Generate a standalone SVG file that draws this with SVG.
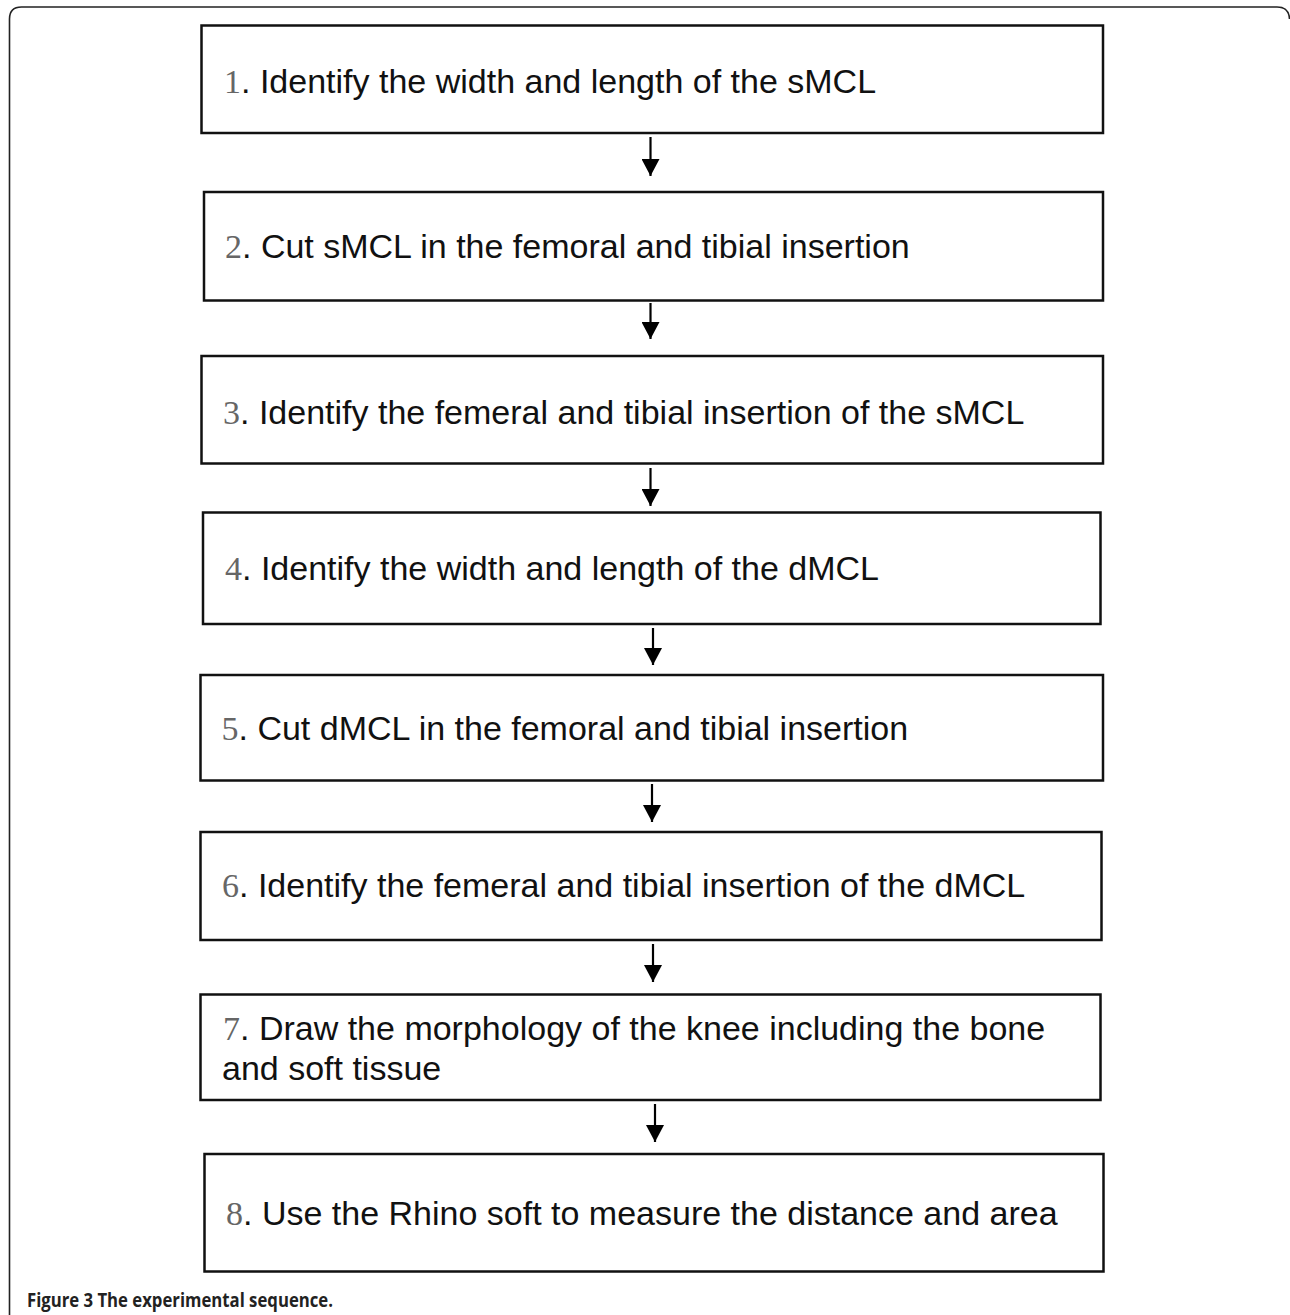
<svg xmlns="http://www.w3.org/2000/svg" width="1290" height="1315" viewBox="0 0 1290 1315">
<style>
.box{fill:#fff;stroke:#111;stroke-width:2.5}
.lbl{font-family:"Liberation Sans",Arial,sans-serif;font-size:34px;fill:#111}
.num{font-family:"Liberation Serif","Times New Roman",serif;fill:#666}
.conn{stroke:#000;stroke-width:2.2;fill:none}
.cap{font-family:"Open Sans","Liberation Sans",sans-serif;font-size:19px;font-weight:bold;fill:#222}
</style>
<defs>
<marker id="ah" markerUnits="userSpaceOnUse" markerWidth="18" markerHeight="18" viewBox="0 0 18 18" refX="17" refY="9" orient="auto">
<path d="M0,0 L17,9 L0,18 Z" fill="#000"/>
</marker>
</defs>
<rect width="1290" height="1315" fill="#fff"/>
<path d="M9.5,1315 L9.5,19 Q9.5,7 21.5,7 L1277,7 Q1289,7 1289.5,19" fill="none" stroke="#222" stroke-width="1.6"/>
<g id="connectors">
<path d="M650.5,137 L650.5,176" class="conn" marker-end="url(#ah)"/>
<path d="M650.5,303 L650.5,339" class="conn" marker-end="url(#ah)"/>
<path d="M650.5,468 L650.5,506" class="conn" marker-end="url(#ah)"/>
<path d="M653,628 L653,665" class="conn" marker-end="url(#ah)"/>
<path d="M652,784 L652,822" class="conn" marker-end="url(#ah)"/>
<path d="M653,944 L653,982" class="conn" marker-end="url(#ah)"/>
<path d="M655,1104 L655,1142" class="conn" marker-end="url(#ah)"/>
</g>
<g id="n1"><rect class="box" x="201.5" y="25.5" width="901.5" height="107.5"/><text class="lbl" x="224" y="93"><tspan class="num">1</tspan>. Identify the width and length of the sMCL</text></g>
<g id="n2"><rect class="box" x="204" y="192" width="899" height="108.5"/><text class="lbl" x="225" y="258"><tspan class="num">2</tspan>. Cut sMCL in the femoral and tibial insertion</text></g>
<g id="n3"><rect class="box" x="201.5" y="356" width="901.5" height="107.5"/><text class="lbl" x="223" y="424"><tspan class="num">3</tspan>. Identify the femeral and tibial insertion of the sMCL</text></g>
<g id="n4"><rect class="box" x="203" y="512.5" width="897.5" height="111.5"/><text class="lbl" x="225" y="580"><tspan class="num">4</tspan>. Identify the width and length of the dMCL</text></g>
<g id="n5"><rect class="box" x="200.5" y="675" width="902.5" height="105.5"/><text class="lbl" x="221.5" y="740"><tspan class="num">5</tspan>. Cut dMCL in the femoral and tibial insertion</text></g>
<g id="n6"><rect class="box" x="200.5" y="832" width="901" height="108"/><text class="lbl" x="222" y="897"><tspan class="num">6</tspan>. Identify the femeral and tibial insertion of the dMCL</text></g>
<g id="n7"><rect class="box" x="200.5" y="994.5" width="900" height="105.5"/><text class="lbl" x="223" y="1040"><tspan class="num">7</tspan>. Draw the morphology of the knee including the bone</text><text class="lbl" x="222" y="1080">and soft tissue</text></g>
<g id="n8"><rect class="box" x="204.5" y="1154" width="899" height="117.5"/><text class="lbl" x="226" y="1225"><tspan class="num">8</tspan>. Use the Rhino soft to measure the distance and area</text></g>
<text class="cap" x="27" y="1307" textLength="306" lengthAdjust="spacingAndGlyphs">Figure 3 The experimental sequence.</text>
</svg>
